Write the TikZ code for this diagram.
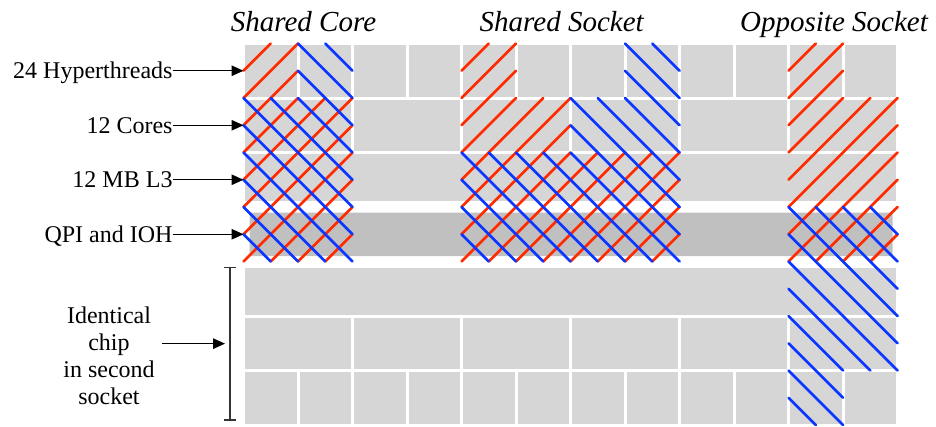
\documentclass[tikz,border=0pt]{standalone}
\usepackage{fontspec}
\setmainfont{LiberationSerif}[Extension=.ttf,UprightFont=*-Regular,ItalicFont=*-Italic,
  BoldFont=*-Bold,BoldItalicFont=*-BoldItalic]
\usetikzlibrary{arrows.meta,calc}

\definecolor{cellgray}{HTML}{D6D6D6}
\definecolor{busgray}{HTML}{C0C0C0}
\definecolor{hatchred}{HTML}{FF2B00}
\definecolor{hatchblue}{HTML}{0A36FF}

% A lattice-aligned cell, inset so that neighbours are separated by a thin white gap
\newcommand\cellbox[4]{%
  \fill[cellgray] ([xshift=1.5pt,yshift=-1.5pt]#1,#3) rectangle ([xshift=-1.5pt,yshift=1.5pt]#2,#4);}

% "/" hatching of the lattice rectangle [#1,#2] x [#3,#4]
\newcommand\redhatch[4]{%
  \pgfmathtruncatemacro\hsA{#1+#3+1}%
  \pgfmathtruncatemacro\hsB{#2+#4-1}%
  \foreach \s in {\hsA,...,\hsB}{%
    \pgfmathtruncatemacro\hiA{max(#1,\s-#4)}%
    \pgfmathtruncatemacro\hiB{min(#2,\s-#3)}%
    \ifnum\hiA<\hiB
      \draw[redhatch] (\hiA,\s-\hiA) -- (\hiB,\s-\hiB);
    \fi
  }}

% "\" hatching of the lattice rectangle [#1,#2] x [#3,#4]
\newcommand\bluehatch[4]{%
  \pgfmathtruncatemacro\hsA{#1-#4+1}%
  \pgfmathtruncatemacro\hsB{#2-#3-1}%
  \foreach \t in {\hsA,...,\hsB}{%
    \pgfmathtruncatemacro\hiA{max(#1,#3+\t)}%
    \pgfmathtruncatemacro\hiB{min(#2,#4+\t)}%
    \ifnum\hiA<\hiB
      \draw[bluehatch] (\hiA,\hiA-\t) -- (\hiB,\hiB-\t);
    \fi
  }}

\begin{document}
\begin{tikzpicture}[x=1pt,y=-1pt,
  redhatch/.style={draw=hatchred,line width=2.8pt,line cap=round},
  bluehatch/.style={draw=hatchblue,line width=2.8pt,line cap=round},
  lab/.style={font=\rmfamily\fontsize{24}{27.2}\selectfont,inner sep=0pt,
              text height=16pt,text depth=0pt,anchor=east},
  chiplab/.style={font=\rmfamily\fontsize{24}{27.2}\selectfont,inner sep=0pt,
              align=center,anchor=north},
  ttl/.style={font=\rmfamily\fontsize{29}{34}\selectfont\itshape,inner sep=0pt,anchor=base},
  arr/.style={-{Triangle[length=12pt,width=10.5pt]},line width=1.3pt},
  bracketline/.style={draw=black!80,line width=1.6pt}]

\path[use as bounding box] (0,0) rectangle (936,426);

% ---- plain blocks of both chips ----
\fill[cellgray] (245,154) rectangle (896,200.7);            % 12 MB L3
\fill[busgray,rounded corners=2pt] (249.5,212.7) rectangle (892.5,256); % QPI and IOH
\fill[cellgray] (245,268) rectangle (896,314.7);            % L3 of the second chip

\begin{scope}[shift={(243.5pt,-43.5pt)},x=27.25pt,y=-27.25pt]
  % hyperthreads and cores, first chip
  \foreach \k in {0,...,11} {\cellbox{2*\k}{2*\k+2}{0}{2}}
  \foreach \k in {0,...,5}  {\cellbox{4*\k}{4*\k+4}{2}{4}}
  % cores and hyperthreads, second chip
  \foreach \k in {0,...,5}  {\cellbox{4*\k}{4*\k+4}{10}{12}}
  \foreach \k in {0,...,11} {\cellbox{2*\k}{2*\k+2}{12}{14}}

  % first thread: red
  \redhatch{0}{2}{0}{2}   \redhatch{0}{4}{2}{8}
  \redhatch{8}{10}{0}{2}  \redhatch{8}{12}{2}{4}  \redhatch{8}{16}{4}{8}
  \redhatch{20}{22}{0}{2} \redhatch{20}{24}{2}{8}

  % second thread: blue
  \bluehatch{2}{4}{0}{2}    \bluehatch{0}{4}{2}{8}
  \bluehatch{14}{16}{0}{2}  \bluehatch{12}{16}{2}{4}  \bluehatch{8}{16}{4}{8}
  \bluehatch{20}{24}{6}{12} \bluehatch{20}{22}{12}{14}
\end{scope}

% ---- column titles ----
\node[ttl] (tcore)   at (303.5,31.7) {Shared Core};
\node[ttl] (tsocket) at (561.7,31.7) {Shared Socket};
\node[ttl] (topp)    at (834,31.7)   {Opposite Socket};

% ---- row labels ----
\node[lab] (lht)  at (172.7,70.75)  {24 Hyperthreads};
\node[lab] (lcor) at (172.7,125.25) {12 Cores};
\node[lab] (ll3)  at (172.7,179.75) {12 MB L3};
\node[lab] (lqpi) at (172.7,234.25) {QPI and IOH};
\coordinate (pht)  at (243.5,70.75);
\coordinate (pcor) at (243.5,125.25);
\coordinate (pl3)  at (243.5,179.75);
\coordinate (pqpi) at (243.5,234.25);
\draw[arr] (lht.east)  -- (pht);
\draw[arr] (lcor.east) -- (pcor);
\draw[arr] (ll3.east)  -- (pl3);
\draw[arr] (lqpi.east) -- (pqpi);

% ---- second socket ----
\coordinate (bktop) at (230,267.3);
\coordinate (bkbot) at (230,420);
\coordinate (bkmid) at ($(bktop)!0.5!(bkbot)$);
\draw[bracketline] (bktop) -- (bkbot)
  ([xshift=-6pt]bktop) -- ([xshift=6pt]bktop)
  ([xshift=-6pt]bkbot) -- ([xshift=6pt]bkbot);
\node[chiplab] (lchip) at (109,306.3) {Identical\\chip\\in second\\socket};
\draw[arr,shorten <=7pt,shorten >=5pt] (lchip.east |- bkmid) -- (bkmid);
\end{tikzpicture}
\end{document}
